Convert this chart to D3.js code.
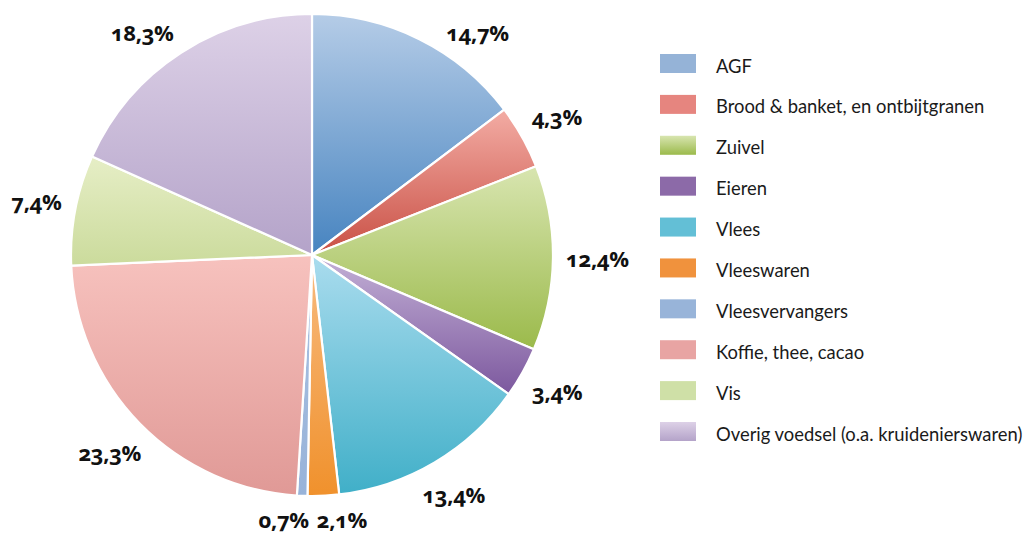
<!DOCTYPE html>
<html>
<head>
<meta charset="utf-8">
<script src="https://cdn.jsdelivr.net/npm/d3@7"></script>
<style>
  html, body { margin: 0; padding: 0; background: #ffffff; }
  svg { display: block; }
  .lbl { font-family: "Open Sans", Lato, sans-serif; font-weight: 700; font-size: 22px; fill: #111; font-feature-settings: "onum" 1; font-variant-numeric: oldstyle-nums; letter-spacing: -0.3px; }
  .leg { font-family: Lato, "Noto Sans", sans-serif; font-size: 18.4px; fill: #1a1a1a; }
</style>
</head>
<body>
<svg id="chart" width="1030" height="533"></svg>
<script>
// ---- data ----
const categories = ["AGF", "Brood & banket, en ontbijtgranen", "Zuivel", "Eieren", "Vlees",
  "Vleeswaren", "Vleesvervangers", "Koffie, thee, cacao", "Vis", "Overig voedsel (o.a. kruidenierswaren)"];
const values = [14.7, 4.3, 12.4, 3.4, 13.4, 2.1, 0.7, 23.3, 7.4, 18.3];
const valueLabels = ["14,7%", "4,3%", "12,4%", "3,4%", "13,4%", "2,1%", "0,7%", "23,3%", "7,4%", "18,3%"];
// slice gradient: top colour, bottom colour
const topColors = ["#b5cce7", "#f3aca4", "#d8e5b0", "#c3b0d6", "#aadcee", "#f8bb80", "#a9c1e1", "#f7c2be", "#e6eec6", "#ddd1e7"];
const bottomColors = ["#4784c0", "#c95045", "#9bba4b", "#7c589e", "#40afc8", "#f0912c", "#98b3d9", "#e09996", "#cbdb9c", "#b4a3c9"];
const legendColors = ["#95b3d7", "#e6857f", "#c3d88e", "#8c6aa8", "#63bfd6", "#f0923d", "#98b4d9", "#e8a4a3", "#cfe0a7", "#c9bbdb"];
const legendGradient = [false, false, true, false, false, false, false, false, false, true];

// ---- layout ----
const svg = d3.select("#chart");
const cx = 312, cy = 255, R = 241;
const defs = svg.append("defs");

categories.forEach((c, i) => {
  const g = defs.append("linearGradient").attr("id", "g" + i)
    .attr("x1", 0).attr("y1", 0).attr("x2", 0).attr("y2", 1);
  g.append("stop").attr("offset", "0%").attr("stop-color", topColors[i]);
  g.append("stop").attr("offset", "100%").attr("stop-color", bottomColors[i]);
  const lg = defs.append("linearGradient").attr("id", "lg" + i)
    .attr("x1", 0).attr("y1", 0).attr("x2", 0).attr("y2", 1);
  lg.append("stop").attr("offset", "0%").attr("stop-color", legendGradient[i] ? topColors[i] : legendColors[i]);
  lg.append("stop").attr("offset", "100%").attr("stop-color", legendGradient[i] ? bottomColors[i] : legendColors[i]);
});

const pie = d3.pie().sort(null).value(d => d);
const arcs = pie(values);
const arc = d3.arc().innerRadius(0).outerRadius(R);

const pg = svg.append("g").attr("transform", `translate(${cx},${cy})`);
pg.selectAll("path").data(arcs).enter().append("path")
  .attr("d", arc)
  .attr("fill", (d, i) => `url(#g${i})`)
  .attr("stroke", "#ffffff")
  .attr("stroke-width", 2.2)
  .attr("stroke-linejoin", "round");

// ---- labels: outside end ----
const lg = svg.append("g");
const texts = lg.selectAll("text").data(arcs).enter().append("text")
  .attr("class", "lbl")
  .attr("text-anchor", "middle")
  .text((d, i) => valueLabels[i]);

const gap = 13, h = 20, minY = 33;
const pos = [];
texts.each(function(d, i) {
  const w = this.getComputedTextLength();
  const a = (d.startAngle + d.endAngle) / 2;
  const s = Math.sin(a), c = Math.cos(a);
  const dist = R + gap + Math.abs(s) * w / 2 + Math.abs(c) * h / 2;
  let x = s * dist, y = -c * dist;
  if (cy + y < minY) {
    y = minY - cy;
    x = Math.sign(s) * Math.sqrt(Math.max(0, dist * dist - y * y));
  }
  pos.push({ x, y, w });
});
// resolve overlaps (push apart horizontally)
for (let iter = 0; iter < 5; iter++) {
  for (let i = 0; i < pos.length; i++) {
    for (let j = i + 1; j < pos.length; j++) {
      const p = pos[i], q = pos[j];
      if (Math.abs(p.y - q.y) < h) {
        const need = (p.w + q.w) / 2 + 8;
        const dx = q.x - p.x;
        if (Math.abs(dx) < need) {
          const push = (need - Math.abs(dx)) / 2;
          const dir = dx >= 0 ? 1 : -1;
          p.x -= dir * push; q.x += dir * push;
        }
      }
    }
  }
}
texts.attr("x", (d, i) => cx + pos[i].x)
  .attr("y", (d, i) => cy + pos[i].y)
  .attr("dy", "0.36em");

// ---- legend ----
const ly = d3.scalePoint().domain(categories).range([63.5, 431.5]);
const leg = svg.append("g");
const items = leg.selectAll("g").data(categories).enter().append("g")
  .attr("transform", d => `translate(660,${ly(d)})`);
items.append("rect").attr("x", 0).attr("y", -9.5).attr("width", 36).attr("height", 19)
  .attr("fill", (d, i) => `url(#lg${i})`);
items.append("text").attr("class", "leg").attr("x", 56).attr("y", 9).text(d => d);
</script>
</body>
</html>
